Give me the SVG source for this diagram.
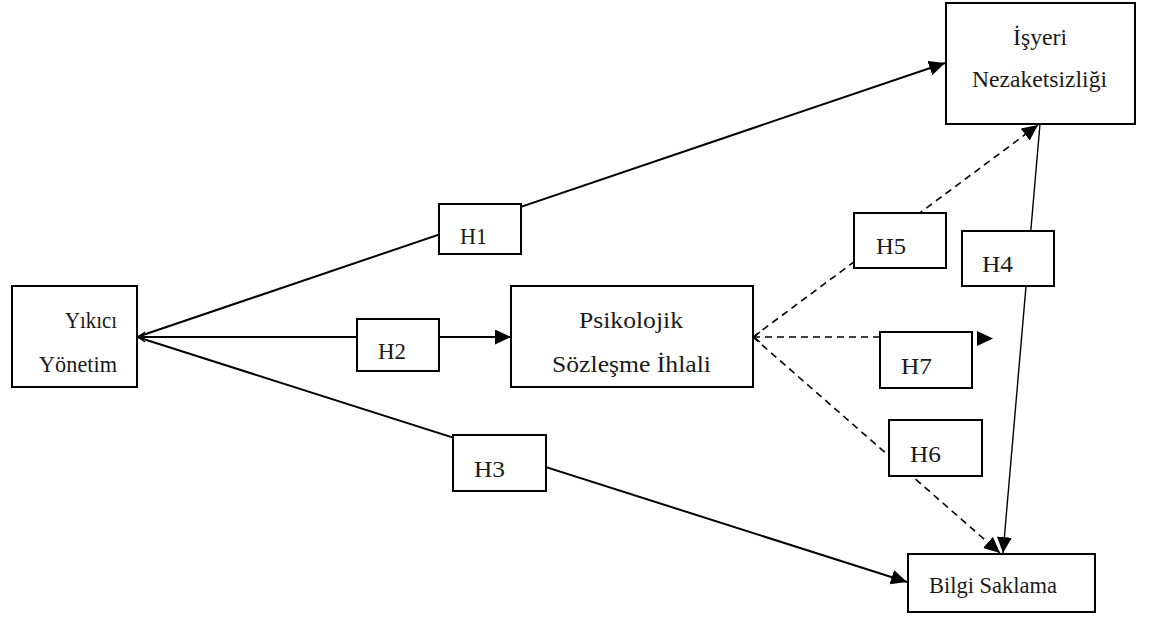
<svg xmlns="http://www.w3.org/2000/svg" width="1154" height="619" viewBox="0 0 1154 619">
<style>
.box{fill:#fff;stroke:#000;stroke-width:2}
.t{font-family:"Liberation Serif","Times New Roman",serif;font-size:22.5px;fill:#1a1a1a}
.c{fill:none;stroke:#000;stroke-width:2}
.thin{fill:none;stroke:#000;stroke-width:1.4}
.d{fill:none;stroke:#000;stroke-width:1.6;stroke-dasharray:7 5}
.ch{fill:none;stroke:#000;stroke-width:1.2}
</style>
<defs>
<marker id="ah" markerUnits="userSpaceOnUse" markerWidth="17" markerHeight="16" refX="16" refY="7.5" orient="auto">
<path d="M0,0 L16,7.5 L0,15 z" fill="#000"/>
</marker>
</defs>
<rect width="1154" height="619" fill="#fff"/>
<g id="connectors">
<line class="c" x1="137" y1="337" x2="945" y2="63" marker-end="url(#ah)"/>
<line class="c" x1="137" y1="337" x2="511" y2="337" marker-end="url(#ah)"/>
<line class="c" x1="137" y1="337" x2="907" y2="582" marker-end="url(#ah)"/>
<line class="d" x1="753" y1="337" x2="1038" y2="125" marker-end="url(#ah)"/>
<line class="d" x1="753" y1="337" x2="880" y2="337"/>
<line class="d" x1="753" y1="337" x2="1000" y2="553" marker-end="url(#ah)"/>
<line class="thin" x1="1040" y1="124" x2="1003" y2="553" marker-end="url(#ah)"/>
<path d="M977,331 L993,338.5 L977,346 z" fill="#000"/>
<polyline class="ch" points="145,332 138,337 145,342"/>
<polyline class="ch" points="760,332 754,337 760,342"/>
</g>
<g id="yikici">
<rect class="box" x="12" y="286" width="125" height="101"/>
<text class="t" x="65" y="328" textLength="52" lengthAdjust="spacingAndGlyphs">Yıkıcı</text>
<text class="t" x="39" y="372" textLength="78" lengthAdjust="spacingAndGlyphs">Yönetim</text>
</g>
<g id="psikolojik">
<rect class="box" x="511" y="286" width="242" height="101"/>
<text class="t" x="579" y="328" textLength="104" lengthAdjust="spacingAndGlyphs">Psikolojik</text>
<text class="t" x="552" y="372" textLength="159" lengthAdjust="spacingAndGlyphs">Sözleşme İhlali</text>
</g>
<g id="isyeri">
<rect class="box" x="946" y="3" width="189" height="121"/>
<text class="t" x="1013" y="45" textLength="54" lengthAdjust="spacingAndGlyphs">İşyeri</text>
<text class="t" x="972" y="87" textLength="135" lengthAdjust="spacingAndGlyphs">Nezaketsizliği</text>
</g>
<g id="bilgi">
<rect class="box" x="908" y="554" width="187" height="58"/>
<text class="t" x="929" y="593" textLength="128" lengthAdjust="spacingAndGlyphs">Bilgi Saklama</text>
</g>
<g id="h1">
<rect class="box" x="439" y="204" width="82" height="50"/>
<text class="t" x="460" y="244" textLength="27" lengthAdjust="spacingAndGlyphs">H1</text>
</g>
<g id="h2">
<rect class="box" x="357" y="319" width="82" height="52"/>
<text class="t" x="378" y="359" textLength="28" lengthAdjust="spacingAndGlyphs">H2</text>
</g>
<g id="h3">
<rect class="box" x="453" y="435" width="93" height="56"/>
<text class="t" x="474" y="477" textLength="31" lengthAdjust="spacingAndGlyphs">H3</text>
</g>
<g id="h5">
<rect class="box" x="854" y="213" width="92" height="55"/>
<text class="t" x="876" y="254" textLength="30" lengthAdjust="spacingAndGlyphs">H5</text>
</g>
<g id="h4">
<rect class="box" x="962" y="231" width="92" height="55"/>
<text class="t" x="982" y="272" textLength="31" lengthAdjust="spacingAndGlyphs">H4</text>
</g>
<g id="h7">
<rect class="box" x="880" y="332" width="92" height="56"/>
<text class="t" x="901" y="374" textLength="31" lengthAdjust="spacingAndGlyphs">H7</text>
</g>
<g id="h6">
<rect class="box" x="889" y="420" width="93" height="56"/>
<text class="t" x="910" y="462" textLength="31" lengthAdjust="spacingAndGlyphs">H6</text>
</g>
</svg>
